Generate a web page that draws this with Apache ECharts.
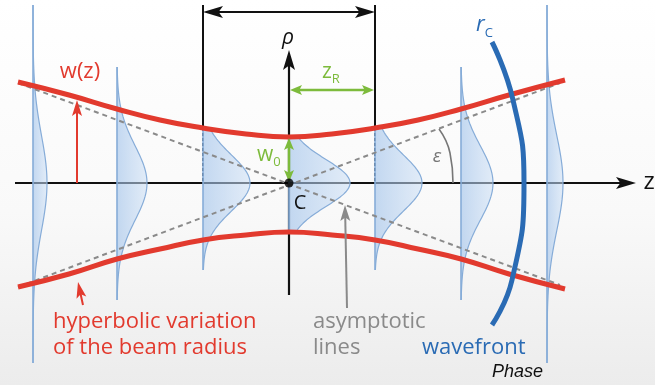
<!DOCTYPE html>
<html><head><meta charset="utf-8">
<script src="https://cdn.jsdelivr.net/npm/echarts@6/dist/echarts.min.js"></script>
<style>html,body{margin:0;padding:0;background:#fff}#c{width:655px;height:385px}</style>
</head><body><div id="c"></div>
<script>
// ---- data (z along beam axis, rho transverse; origin at waist C) ----
const profileZ = [-256, -172, -86, 0, 86, 172, 258];
const profileAmp = [14, 30, 47, 61, 47, 32, 16];
const profileW = [95, 74, 56, 47, 56, 74, 96];
const profileTop = [178, 116, 55, 46, 55, 116, 178];
const profileBottom = [-180, -117, -87, -47, -87, -117, -180];

const beamZ = [-271, -220, -172, -129, -86, -43, 0, 43, 86, 129, 172, 220, 276];
const beamUpper = [101, 88, 74, 63, 55, 49, 46, 49, 55, 63, 74, 88, 103];
const beamLower = [-104, -91, -76, -66, -57, -52, -49, -52, -57, -66, -76, -91, -106];

const asymZ = [-271, 271];
const asymA = [100, -102];
const asymB = [-104, 100];

const wfZ = [203, 224, 235, 223, 203];
const wfRho = [141, 83, 0, -97, -142];

const epsZ = [150, 161, 164];
const epsRho = [54, 30, 0];

// arrows: [z1, rho1, z2, rho2, headAtStart, headAtEnd]
const blackArrows = [[-274, 0, 347, 0, 0, 1], [0, -112, 0, 133, 0, 1], [-86, 171, 86, 171, 1, 1]];
const redArrows = [[-212, 0, -212, 83, 0, 1], [-206, -122, -211, -99, 0, 1]];
const grayArrows = [[58, -125, 56, -22, 0, 1]];
const greenArrows = [[0, 1, 0, 45, 1, 1], [1, 93, 85, 93, 1, 1]];
// Rayleigh-range markers: [z, rhoTop, rhoBreak]
const zrMarkers = [[-86, 178, 55], [86, 178, 55]];

const chart = echarts.init(document.getElementById('c'), null, {renderer: 'canvas'});

function arrowRender(color, width, headL, headW) {
  return function (params, api) {
    const a = api.coord([api.value(0), api.value(1)]);
    const b = api.coord([api.value(2), api.value(3)]);
    const dx = b[0] - a[0], dy = b[1] - a[1];
    const len = Math.sqrt(dx * dx + dy * dy);
    const ux = dx / len, uy = dy / len, nx = -uy, ny = ux;
    const kids = [];
    let s = a.slice(), e = b.slice();
    function head(tip, dirx, diry) {
      const bx = tip[0] - dirx * headL, by = tip[1] - diry * headL;
      const mx = tip[0] - dirx * headL * 0.78, my = tip[1] - diry * headL * 0.78;
      return {type: 'polygon', shape: {points: [tip, [bx + nx * headW, by + ny * headW], [mx, my], [bx - nx * headW, by - ny * headW]]},
        style: {fill: color}};
    }
    if (api.value(4)) { kids.push(head(a, -ux, -uy)); s = [a[0] + ux * headL * 0.7, a[1] + uy * headL * 0.7]; }
    if (api.value(5)) { kids.push(head(b, ux, uy)); e = [b[0] - ux * headL * 0.7, b[1] - uy * headL * 0.7]; }
    kids.unshift({type: 'line', shape: {x1: s[0], y1: s[1], x2: e[0], y2: e[1]}, style: {stroke: color, lineWidth: width}});
    return {type: 'group', children: kids};
  };
}

function arrowSeries(data, color, width, headL, headW, z) {
  return {type: 'custom', data: data, renderItem: arrowRender(color, width, headL, headW), clip: false, silent: true, z: z,
    encode: {x: [0, 2], y: [1, 3]}};
}

const profileFill = new echarts.graphic.LinearGradient(0, 0, 1, 0, [
  {offset: 0, color: 'rgba(160,194,234,0.62)'},
  {offset: 1, color: 'rgba(205,224,246,0.55)'}
]);

const GREEN = '#7dbb3c', BLUE = '#2a6bb4';

const option = {
  animation: false,
  backgroundColor: {type: 'linear', x: 0, y: 0, x2: 0, y2: 1,
    colorStops: [{offset: 0, color: '#ffffff'}, {offset: 0.55, color: '#f9f9f9'}, {offset: 1, color: '#ececec'}]},
  grid: {left: 0, right: 0, top: 0, bottom: 0},
  xAxis: {type: 'value', min: -289, max: 366, show: false},
  yAxis: {type: 'value', min: -202, max: 183, show: false},
  series: [
    arrowSeries(blackArrows, '#111', 2.2, 20, 6, 2),
    {type: 'custom', data: zrMarkers, clip: false, silent: true, z: 3, encode: {x: 0, y: [1, 2]},
      renderItem: function (p, api) {
        const t = api.coord([api.value(0), api.value(1)]);
        const m = api.coord([api.value(0), api.value(2)]);
        const o = api.coord([api.value(0), 0]);
        return {type: 'group', children: [
          {type: 'line', shape: {x1: t[0], y1: t[1], x2: m[0], y2: m[1]}, style: {stroke: '#111', lineWidth: 2}},
          {type: 'line', shape: {x1: m[0], y1: m[1], x2: o[0], y2: o[1]}, style: {stroke: '#111', lineWidth: 2, lineDash: [3, 2]}}
        ]};
      }},
    {type: 'custom', clip: false, silent: true, z: 4,
      data: profileZ.map((z, i) => [z, profileAmp[i], profileW[i], profileTop[i], profileBottom[i]]),
      encode: {x: 0, y: [3, 4]},
      renderItem: function (p, api) {
        const z = api.value(0), amp = api.value(1), w = api.value(2), top = api.value(3), bot = api.value(4);
        const pts = [];
        const n = 90;
        for (let i = 0; i <= n; i++) {
          const r = bot + (top - bot) * i / n;
          pts.push(api.coord([z + amp * Math.exp(-2 * r * r / (w * w)), r]));
        }
        const bt = api.coord([z, top]), bb = api.coord([z, bot]);
        return {type: 'group', children: [
          {type: 'polygon', shape: {points: [bb].concat(pts).concat([bt])}, style: {fill: profileFill}},
          {type: 'polyline', shape: {points: pts}, style: {stroke: '#86acd8', lineWidth: 1.2, fill: null}},
          {type: 'line', shape: {x1: bt[0], y1: bt[1], x2: bb[0], y2: bb[1]}, style: {stroke: '#86acd8', lineWidth: 1.6}}
        ]};
      }},
    {type: 'line', data: asymZ.map((z, i) => [z, asymA[i]]), showSymbol: false, silent: true, z: 5,
      lineStyle: {color: '#8a8a8a', width: 2, type: [5, 4]}},
    {type: 'line', data: asymZ.map((z, i) => [z, asymB[i]]), showSymbol: false, silent: true, z: 5,
      lineStyle: {color: '#8a8a8a', width: 2, type: [5, 4]}},
    {type: 'line', data: epsZ.map((z, i) => [z, epsRho[i]]), smooth: true, showSymbol: false, silent: true, z: 5,
      lineStyle: {color: '#777', width: 1.6}},
    {type: 'line', data: beamZ.map((z, i) => [z, beamUpper[i]]), smooth: true, showSymbol: false, silent: true, z: 6,
      lineStyle: {color: '#e23a2e', width: 5}},
    {type: 'line', data: beamZ.map((z, i) => [z, beamLower[i]]), smooth: true, showSymbol: false, silent: true, z: 6,
      lineStyle: {color: '#e23a2e', width: 5}},
    {type: 'line', data: wfZ.map((z, i) => [z, wfRho[i]]), smooth: true, showSymbol: false, silent: true, z: 7,
      lineStyle: {color: BLUE, width: 5}},
    arrowSeries(redArrows, '#e23a2e', 2, 16, 5, 8),
    arrowSeries(grayArrows, '#8a8a8a', 2, 16, 5, 8),
    arrowSeries(greenArrows, GREEN, 2.5, 12, 5, 8),
    {type: 'scatter', data: [[0, 0]], symbolSize: 9, itemStyle: {color: '#000'}, silent: true, z: 9}
  ],
  graphic: [
    {type: 'text', z: 100, x: 80, y: 72, style: {text: 'w(z)', font: '22px "Open Sans"', fill: '#e23a2e', align: 'center', verticalAlign: 'middle'}},
    {type: 'text', z: 100, x: 288, y: 38, style: {text: 'ρ', font: 'italic 21px "Open Sans"', fill: '#111', align: 'center', verticalAlign: 'middle'}},
    {type: 'text', z: 100, x: 300, y: 203, style: {text: 'C', font: '20px "Open Sans"', fill: '#111', align: 'center', verticalAlign: 'middle'}},
    {type: 'text', z: 100, x: 257, y: 155, style: {text: '{a|w}{b|0}', verticalAlign: 'middle', fill: GREEN,
      rich: {a: {font: '21px "Open Sans"', fill: GREEN, color: GREEN}, b: {font: '13px "Open Sans"', fill: GREEN, color: GREEN, padding: [14, 0, 0, 0]}}}},
    {type: 'text', z: 100, x: 322, y: 72, style: {text: '{a|z}{b|R}', verticalAlign: 'middle', fill: GREEN,
      rich: {a: {font: '21px "Open Sans"', fill: GREEN, color: GREEN}, b: {font: '13px "Open Sans"', fill: GREEN, color: GREEN, padding: [14, 0, 0, 0]}}}},
    {type: 'text', z: 100, x: 476, y: 25, style: {text: '{a|r}{b|C}', verticalAlign: 'middle', fill: BLUE,
      rich: {a: {font: 'italic 22px "Open Sans"', fill: BLUE, color: BLUE}, b: {font: '13px "Open Sans"', fill: BLUE, color: BLUE, padding: [16, 0, 0, 0]}}}},
    {type: 'text', z: 100, x: 437, y: 157, style: {text: 'ε', font: 'italic 19px "Open Sans"', fill: '#777', align: 'center', verticalAlign: 'middle'}},
    {type: 'text', z: 100, x: 649, y: 182, style: {text: 'z', font: '24px "Open Sans"', fill: '#111', align: 'center', verticalAlign: 'middle'}},
    {type: 'text', z: 100, x: 53, y: 322, style: {text: 'hyperbolic variation', font: '22px "Open Sans"', fill: '#e23a2e', verticalAlign: 'middle'}},
    {type: 'text', z: 100, x: 53, y: 348, style: {text: 'of the beam radius', font: '22px "Open Sans"', fill: '#e23a2e', verticalAlign: 'middle'}},
    {type: 'text', z: 100, x: 313, y: 322, style: {text: 'asymptotic', font: '22px "Open Sans"', fill: '#8a8a8a', verticalAlign: 'middle'}},
    {type: 'text', z: 100, x: 313, y: 348, style: {text: 'lines', font: '22px "Open Sans"', fill: '#8a8a8a', verticalAlign: 'middle'}},
    {type: 'text', z: 100, x: 422, y: 348, style: {text: 'wavefront', font: '22px "Open Sans"', fill: BLUE, verticalAlign: 'middle'}},
    {type: 'text', z: 100, x: 492, y: 372, style: {text: 'Phase', font: 'italic 18px "Liberation Sans"', fill: '#111', verticalAlign: 'middle'}}
  ]
};
chart.setOption(option);
</script>
</body></html>
